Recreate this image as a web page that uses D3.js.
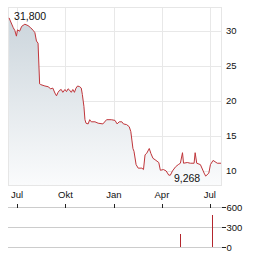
<!DOCTYPE html>
<html>
<head>
<meta charset="utf-8">
<script src="https://cdn.jsdelivr.net/npm/d3@7"></script>
<style>
  body { margin: 0; background: #fff; }
  svg { display: block; font-family: "Liberation Sans", Arial, sans-serif; }
</style>
</head>
<body>
<div id="chart"></div>
<script>
// price history
const priceDates = ["2023-06-16","2023-06-24","2023-06-27","2023-06-30","2023-07-02","2023-07-06","2023-07-10","2023-07-16","2023-07-22","2023-07-27","2023-08-01","2023-08-04","2023-08-07","2023-08-10","2023-08-13","2023-08-15","2023-08-23","2023-08-29","2023-09-03","2023-09-07","2023-09-11","2023-09-14","2023-09-17","2023-09-20","2023-09-23","2023-09-26","2023-09-30","2023-10-03","2023-10-06","2023-10-09","2023-10-12","2023-10-15","2023-10-18","2023-10-21","2023-10-24","2023-10-28","2023-10-31","2023-11-02","2023-11-05","2023-11-07","2023-11-09","2023-11-13","2023-11-16","2023-11-19","2023-11-26","2023-12-02","2023-12-11","2023-12-18","2023-12-27","2024-01-03","2024-01-07","2024-01-11","2024-01-16","2024-01-19","2024-01-25","2024-01-30","2024-02-02","2024-02-04","2024-02-06","2024-02-08","2024-02-12","2024-02-16","2024-02-23","2024-02-26","2024-02-29","2024-03-03","2024-03-08","2024-03-11","2024-03-15","2024-03-19","2024-03-26","2024-03-29","2024-04-04","2024-04-09","2024-04-14","2024-04-17","2024-04-21","2024-04-27","2024-05-02","2024-05-06","2024-05-10","2024-05-12","2024-05-19","2024-05-25","2024-06-01","2024-06-03","2024-06-06","2024-06-13","2024-06-20","2024-06-23","2024-06-29","2024-07-02","2024-07-07","2024-07-15","2024-07-22"];
const priceValues = [31.8,30.4,30.0,29.2,30.1,29.9,30.6,30.9,30.7,30.4,30.0,29.7,28.5,28.2,22.4,22.3,22.1,22.0,21.7,21.8,21.1,20.7,21.2,21.5,21.6,21.2,21.6,21.3,21.7,21.5,21.2,21.6,21.2,21.8,22.1,22.0,21.8,20.9,19.2,17.3,16.8,16.7,17.3,17.0,17.0,16.8,16.7,17.3,17.3,17.2,16.7,17.0,17.0,16.7,16.6,16.3,15.6,14.4,13.2,12.8,10.9,10.4,10.4,10.2,12.3,12.5,13.2,12.5,11.8,11.6,11.2,10.1,10.2,10.0,9.4,9.4,10.0,10.6,10.9,11.1,12.6,11.1,11.2,11.1,11.1,12.6,11.1,10.9,9.7,9.268,9.7,10.9,11.5,11.1,11.1];

// volume
const volumeDates = ["2024-05-06","2024-07-05"];
const volumeValues = [190, 490];

// axes
const priceTicks = [10, 15, 20, 25, 30];
const volumeTicks = [0, 300, 600];
const monthTicks = ["2023-07-01","2023-10-01","2024-01-01","2024-04-01","2024-07-01"];
const monthLabels = ["Jul","Okt","Jan","Apr","Jul"];

const parse = d3.utcParse("%Y-%m-%d");
const prices = priceDates.map((d, i) => ({date: parse(d), value: priceValues[i]}));
const volumes = volumeDates.map((d, i) => ({date: parse(d), value: volumeValues[i]}));
const months = monthTicks.map(parse);

// german number style: 31,800
const de = d3.formatLocale({decimal: ",", thousands: ".", grouping: [3], currency: ["", " €"]});
const fmt = de.format(".3f");

const W = 264, H = 255;
const plotLeft = 8, plotRight = 221.5;
const plotTop = 7, plotBottom = 185;

const x = d3.scaleUtc()
  .domain([parse("2023-06-14"), parse("2024-07-23")])
  .range([plotLeft, plotRight]);
const y = d3.scaleLinear().domain([8, 33.35]).range([plotBottom, plotTop]);
const yVol = d3.scaleLinear().domain([0, 600]).range([247, 207.3]);

const svg = d3.select("#chart").append("svg")
  .attr("width", W)
  .attr("height", H);

const defs = svg.append("defs");
const grad = defs.append("linearGradient")
  .attr("id", "areaFill")
  .attr("gradientUnits", "userSpaceOnUse")
  .attr("x1", 0).attr("x2", 0)
  .attr("y1", plotTop).attr("y2", plotBottom);
grad.append("stop").attr("offset", "0%").attr("stop-color", "#c9d3da");
grad.append("stop").attr("offset", "100%").attr("stop-color", "#fafbfc");

// grid of the price panel
const grid = svg.append("g").attr("shape-rendering", "crispEdges");
grid.selectAll(".hg")
  .data(priceTicks)
  .enter().append("line")
  .attr("x1", plotLeft).attr("x2", plotRight)
  .attr("y1", d => Math.round(y(d)) + 0.5)
  .attr("y2", d => Math.round(y(d)) + 0.5)
  .attr("stroke", "#e8e8e8");
grid.selectAll(".vg")
  .data(months)
  .enter().append("line")
  .attr("x1", d => Math.round(x(d)) + 0.5)
  .attr("x2", d => Math.round(x(d)) + 0.5)
  .attr("y1", plotTop).attr("y2", plotBottom)
  .attr("stroke", "#e8e8e8");

// area + line
const area = d3.area()
  .x(d => x(d.date))
  .y0(plotBottom)
  .y1(d => y(d.value));
const line = d3.line()
  .x(d => x(d.date))
  .y(d => y(d.value));

svg.append("path")
  .datum(prices)
  .attr("d", area)
  .attr("fill", "url(#areaFill)");

svg.append("rect")
  .attr("x", plotLeft + 0.5).attr("y", plotTop + 0.5)
  .attr("width", plotRight - plotLeft - 0.5).attr("height", plotBottom - plotTop)
  .attr("fill", "none")
  .attr("stroke", "#e6e6e6")
  .attr("shape-rendering", "crispEdges");

svg.append("path")
  .datum(prices)
  .attr("d", line)
  .attr("fill", "none")
  .attr("stroke", "#c0353a")
  .attr("stroke-width", 1)
  .attr("stroke-linejoin", "round");

// max / min labels
const maxPt = prices.reduce((a, b) => b.value > a.value ? b : a);
const minPt = prices.reduce((a, b) => b.value < a.value ? b : a);

svg.append("text")
  .attr("x", x(maxPt.date) + 5)
  .attr("y", y(maxPt.value) + 2)
  .attr("font-size", 10.5)
  .attr("fill", "#111")
  .text(fmt(maxPt.value));
svg.append("text")
  .attr("x", x(minPt.date) - 5.5)
  .attr("y", y(minPt.value) + 5.5)
  .attr("text-anchor", "end")
  .attr("font-size", 10.5)
  .attr("fill", "#111")
  .text(fmt(minPt.value));

// price axis labels
svg.selectAll(".pl")
  .data(priceTicks)
  .enter().append("text")
  .attr("x", 226)
  .attr("y", d => y(d) + 3.5)
  .attr("font-size", 9.5)
  .attr("fill", "#111")
  .text(d => d);

// month labels
svg.selectAll(".ml")
  .data(months)
  .enter().append("text")
  .attr("x", d => x(d))
  .attr("y", 197.5)
  .attr("text-anchor", "middle")
  .attr("font-size", 9.5)
  .attr("fill", "#111")
  .text((d, i) => monthLabels[i]);

// volume panel
const vol = svg.append("g").attr("shape-rendering", "crispEdges");
vol.selectAll(".vgl")
  .data(volumeTicks)
  .enter().append("line")
  .attr("x1", plotLeft).attr("x2", plotRight)
  .attr("y1", d => Math.round(yVol(d)) + 0.5)
  .attr("y2", d => Math.round(yVol(d)) + 0.5)
  .attr("stroke", "#cccccc");
vol.selectAll(".vtk")
  .data(volumeTicks)
  .enter().append("line")
  .attr("x1", plotRight).attr("x2", plotRight + 4)
  .attr("y1", d => Math.round(yVol(d)) + 0.5)
  .attr("y2", d => Math.round(yVol(d)) + 0.5)
  .attr("stroke", "#222");
vol.selectAll(".mtk")
  .data(months)
  .enter().append("line")
  .attr("x1", d => Math.round(x(d)) + 0.5)
  .attr("x2", d => Math.round(x(d)) + 0.5)
  .attr("y1", Math.round(yVol(600)) - 3)
  .attr("y2", Math.round(yVol(600)) + 1)
  .attr("stroke", "#222");

vol.selectAll(".bar")
  .data(volumes)
  .enter().append("rect")
  .attr("x", d => Math.round(x(d.date)))
  .attr("y", d => yVol(d.value))
  .attr("width", 1.2)
  .attr("height", d => yVol(0) - yVol(d.value))
  .attr("fill", "#b3262d");

svg.selectAll(".vl")
  .data(volumeTicks)
  .enter().append("text")
  .attr("x", 226.5)
  .attr("y", d => yVol(d) + 3.5)
  .attr("font-size", 9.5)
  .attr("fill", "#111")
  .text(d => d);
</script>
</body>
</html>
